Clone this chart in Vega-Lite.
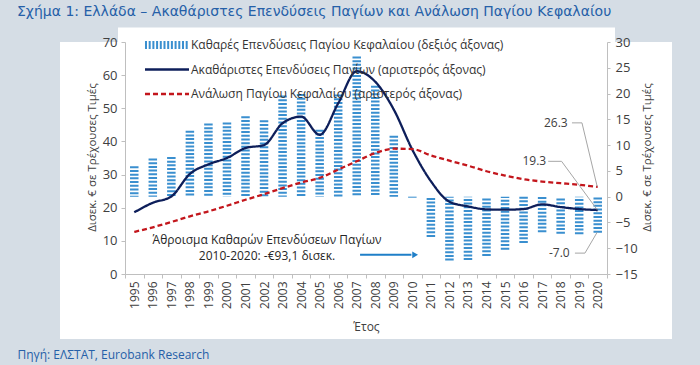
{
  "$schema": "https://vega.github.io/schema/vega-lite/v6.json",
  "width": 482,
  "height": 232,
  "autosize": {"type": "none"},
  "padding": {"left": 125, "top": 42, "right": 93, "bottom": 91},
  "background": "#d5dde5",
  "config": {
    "font": "Open Sans",
    "view": {"fill": "white", "stroke": "white", "strokeWidth": 130, "strokeDash": [0, 482, 946, 0]},
    "legend": {
      "orient": "none",
      "legendX": 36,
      "legendY": -3,
      "title": null,
      "padding": 0,
      "symbolType": "M-2.5,0H2.5",
      "symbolSize": 310,
      "labelFontSize": 12,
      "labelColor": "#333333",
      "labelOffset": 18,
      "rowPadding": 2.5,
      "gridAlign": "all",
      "labelLimit": 500
    }
  },
  "title": {
    "text": "Σχήμα 1: Ελλάδα – Ακαθάριστες Επενδύσεις Παγίων και Ανάλωση Παγίου Κεφαλαίου",
    "anchor": "start",
    "frame": "group",
    "dx": -108,
    "dy": -12,
    "font": "DejaVu Sans",
    "fontSize": 14,
    "fontWeight": "normal",
    "color": "#2560a8"
  },
  "data": {
    "values": [
      {"year": 1995, "gross": 18.6, "depr": 12.7, "net": 5.9},
      {"year": 1996, "gross": 21.5, "depr": 14.1, "net": 7.4},
      {"year": 1997, "gross": 23.4, "depr": 15.7, "net": 7.7},
      {"year": 1998, "gross": 30.2, "depr": 17.4, "net": 12.8},
      {"year": 1999, "gross": 33.1, "depr": 18.9, "net": 14.2},
      {"year": 2000, "gross": 35.0, "depr": 20.6, "net": 14.4},
      {"year": 2001, "gross": 38.0, "depr": 22.4, "net": 15.6},
      {"year": 2002, "gross": 38.9, "depr": 24.1, "net": 14.8},
      {"year": 2003, "gross": 45.5, "depr": 25.9, "net": 19.6},
      {"year": 2004, "gross": 47.5, "depr": 27.6, "net": 19.9},
      {"year": 2005, "gross": 42.0, "depr": 29.0, "net": 13.0},
      {"year": 2006, "gross": 51.5, "depr": 31.5, "net": 19.8},
      {"year": 2007, "gross": 61.2, "depr": 34.0, "net": 27.2},
      {"year": 2008, "gross": 58.0, "depr": 36.5, "net": 21.5},
      {"year": 2009, "gross": 49.6, "depr": 37.8, "net": 11.8},
      {"year": 2010, "gross": 37.5, "depr": 37.7, "net": -0.2},
      {"year": 2011, "gross": 28.0, "depr": 35.8, "net": -7.8},
      {"year": 2012, "gross": 21.8, "depr": 34.2, "net": -12.4},
      {"year": 2013, "gross": 20.4, "depr": 32.7, "net": -12.3},
      {"year": 2014, "gross": 19.5, "depr": 31.0, "net": -11.5},
      {"year": 2015, "gross": 19.4, "depr": 29.7, "net": -10.3},
      {"year": 2016, "gross": 19.6, "depr": 28.6, "net": -9.0},
      {"year": 2017, "gross": 21.0, "depr": 27.9, "net": -6.9},
      {"year": 2018, "gross": 20.2, "depr": 27.4, "net": -7.2},
      {"year": 2019, "gross": 19.6, "depr": 26.9, "net": -7.3},
      {"year": 2020, "gross": 19.3, "depr": 26.3, "net": -7.0}
    ]
  },
  "transform": [{"fold": ["net", "gross", "depr"], "as": ["series", "value"]}],
  "layer": [
    {
      "transform": [{"filter": "datum.series === 'net'"}],
      "mark": {"type": "rule", "strokeWidth": 8.5},
      "encoding": {
        "x": {
          "field": "year", "type": "quantitative",
          "scale": {"domain": [1994.5, 2020.5], "nice": false, "zero": false},
          "axis": {
            "orient": "bottom",
            "values": [1995,1996,1997,1998,1999,2000,2001,2002,2003,2004,2005,2006,2007,2008,2009,2010,2011,2012,2013,2014,2015,2016,2017,2018,2019,2020],
            "format": "d", "labelAngle": -90, "ticks": false, "domain": true, "domainColor": "#bfbfbf",
            "labelPadding": 7, "labelFontSize": 12, "labelColor": "#404040", "labelOverlap": false, "grid": false,
            "title": "Έτος", "titleFontSize": 12, "titleFontWeight": "normal", "titleColor": "#404040", "titlePadding": 13
          }
        },
        "y": {
          "field": "value", "type": "quantitative",
          "scale": {"domain": [-15, 30], "nice": false, "zero": false},
          "axis": {
            "orient": "right", "values": [-15,-10,-5,0,5,10,15,20,25,30], "grid": false, "labelOverlap": false,
            "labelFontSize": 13, "labelColor": "#404040", "domainColor": "#bfbfbf", "tickColor": "#bfbfbf", "tickSize": 3, "labelPadding": 5,
            "title": "Δισεκ. € σε Τρέχουσες Τιμές", "titleAngle": -90, "titleX": 40, "titleY": 115, "titleAlign": "center", "titleBaseline": "middle",
            "titleFontSize": 11.5, "titleFontWeight": "normal", "titleColor": "#404040"
          }
        },
        "y2": {"datum": 0},
        "color": {
          "field": "series", "type": "nominal",
          "scale": {"domain": ["net", "gross", "depr"], "range": ["#3a8fcf", "#0d1e5a", "#c3161c"]},
          "legend": {
            "labelExpr": "datum.value === 'net' ? 'Καθαρές Επενδύσεις Παγίου Κεφαλαίου (δεξιός άξονας)' : datum.value === 'gross' ? 'Ακαθάριστες Επενδύσεις Παγίων (αριστερός άξονας)' : 'Ανάλωση Παγίου Κεφαλαίου (αριστερός άξονας)'",
            "encode": {"symbols": {"update": {"strokeWidth": {"signal": "datum.value === 'net' ? 8 : 2.3"}}}}
          }
        },
        "strokeDash": {
          "field": "series", "type": "nominal",
          "scale": {"domain": ["net", "gross", "depr"], "range": [[2, 1.7], [1, 0], [5, 3]]}
        }
      }
    },
    {
      "layer": [
        {
          "transform": [{"filter": "datum.series !== 'net'"}],
          "mark": {"type": "line", "interpolate": "monotone", "strokeWidth": 2.3},
          "encoding": {
            "x": {
              "field": "year", "type": "quantitative",
              "scale": {"domain": [1994.5, 2020.5], "nice": false, "zero": false},
              "axis": {
                "orient": "bottom",
                "values": [1994.5,1995.5,1996.5,1997.5,1998.5,1999.5,2000.5,2001.5,2002.5,2003.5,2004.5,2005.5,2006.5,2007.5,2008.5,2009.5,2010.5,2011.5,2012.5,2013.5,2014.5,2015.5,2016.5,2017.5,2018.5,2019.5,2020.5],
                "labels": false, "ticks": true, "tickSize": 4, "tickColor": "#bfbfbf", "domain": false, "grid": false,
                "title": "Πηγή: ΕΛΣΤΑΤ, Eurobank Research", "titleX": -108, "titleY": 80, "titleAlign": "left", "titleAnchor": "start",
                "titleBaseline": "middle", "titleFontSize": 12, "titleFontWeight": "normal", "titleColor": "#2560a8"
              }
            },
            "y": {
              "field": "value", "type": "quantitative",
              "scale": {"domain": [0, 70], "nice": false, "zero": false},
              "axis": {
                "orient": "left", "values": [0,10,20,30,40,50,60,70], "grid": false, "labelOverlap": false,
                "labelFontSize": 13, "labelColor": "#404040", "domainColor": "#bfbfbf", "tickColor": "#bfbfbf", "tickSize": 4, "labelPadding": 4,
                "title": "Δισεκ. € σε Τρέχουσες Τιμές", "titleAngle": -90, "titleX": -33, "titleY": 115, "titleAlign": "center", "titleBaseline": "middle",
                "titleFontSize": 11.5, "titleFontWeight": "normal", "titleColor": "#404040"
              }
            },
            "color": {"field": "series", "type": "nominal", "scale": {"domain": ["net", "gross", "depr"], "range": ["#3a8fcf", "#0d1e5a", "#c3161c"]}},
            "strokeDash": {"field": "series", "type": "nominal", "scale": {"domain": ["net", "gross", "depr"], "range": [[2, 1.7], [1, 0], [5, 3]]}}
          }
        },
        {
          "data": {"values": [{}]},
          "mark": {"type": "text", "text": "Άθροισμα Καθαρών Επενδύσεων Παγίων", "fontSize": 12, "color": "#262626", "align": "center", "baseline": "middle"},
          "encoding": {
            "x": {"datum": 2002.16, "type": "quantitative", "axis": {"orient": "top", "domain": true, "domainColor": "white", "domainWidth": 15, "domainCap": "square", "offset": 7.5, "labels": false, "ticks": false, "grid": false, "title": null}},
            "y": {"datum": 10.4, "type": "quantitative", "axis": null}
          }
        },
        {
          "data": {"values": [{}]},
          "mark": {"type": "text", "text": "2010-2020: -€93,1 δισεκ.", "fontSize": 12, "color": "#262626", "align": "center", "baseline": "middle"},
          "encoding": {"x": {"datum": 2002.16, "type": "quantitative", "axis": null}, "y": {"datum": 5.5, "type": "quantitative", "axis": null}}
        },
        {
          "data": {"values": [{}]},
          "mark": {"type": "rule", "color": "#1f7fc8", "strokeWidth": 2},
          "encoding": {"x": {"datum": 2007.18, "type": "quantitative", "axis": null}, "x2": {"datum": 2009.95}, "y": {"datum": 5.8, "type": "quantitative", "axis": null}}
        },
        {
          "data": {"values": [{}]},
          "mark": {"type": "point", "shape": "triangle-right", "filled": true, "size": 45, "color": "#1f7fc8", "opacity": 1},
          "encoding": {"x": {"datum": 2010.15, "type": "quantitative", "axis": null}, "y": {"datum": 5.8, "type": "quantitative", "axis": null}}
        },
        {
          "data": {"values": [{}]},
          "mark": {"type": "rule", "color": "#a6a6a6", "strokeWidth": 1},
          "encoding": {"x": {"datum": 2018.61, "type": "quantitative", "axis": null}, "x2": {"datum": 2019.15}, "y": {"datum": 45.6, "type": "quantitative", "axis": null}}
        },
        {
          "data": {"values": [{}]},
          "mark": {"type": "rule", "color": "#a6a6a6", "strokeWidth": 1},
          "encoding": {"x": {"datum": 2019.15, "type": "quantitative", "axis": null}, "x2": {"datum": 2019.97}, "y": {"datum": 45.6, "type": "quantitative", "axis": null}, "y2": {"datum": 26.4}}
        },
        {
          "data": {"values": [{}]},
          "mark": {"type": "rule", "color": "#a6a6a6", "strokeWidth": 1},
          "encoding": {"x": {"datum": 2017.33, "type": "quantitative", "axis": null}, "x2": {"datum": 2018.05}, "y": {"datum": 34.0, "type": "quantitative", "axis": null}}
        },
        {
          "data": {"values": [{}]},
          "mark": {"type": "rule", "color": "#a6a6a6", "strokeWidth": 1},
          "encoding": {"x": {"datum": 2018.05, "type": "quantitative", "axis": null}, "x2": {"datum": 2019.97}, "y": {"datum": 34.0, "type": "quantitative", "axis": null}, "y2": {"datum": 19.4}}
        },
        {
          "data": {"values": [{}]},
          "mark": {"type": "rule", "color": "#a6a6a6", "strokeWidth": 1},
          "encoding": {"x": {"datum": 2018.77, "type": "quantitative", "axis": null}, "x2": {"datum": 2019.31}, "y": {"datum": 6.3, "type": "quantitative", "axis": null}}
        },
        {
          "data": {"values": [{}]},
          "mark": {"type": "rule", "color": "#a6a6a6", "strokeWidth": 1},
          "encoding": {"x": {"datum": 2019.31, "type": "quantitative", "axis": null}, "x2": {"datum": 2019.97}, "y": {"datum": 6.3, "type": "quantitative", "axis": null}, "y2": {"datum": 12.6}}
        },
        {
          "data": {"values": [{}]},
          "mark": {"type": "text", "text": "26.3", "fontSize": 12, "color": "#404040", "align": "right", "baseline": "middle"},
          "encoding": {"x": {"datum": 2018.38, "type": "quantitative", "axis": null}, "y": {"datum": 45.6, "type": "quantitative", "axis": null}}
        },
        {
          "data": {"values": [{}]},
          "mark": {"type": "text", "text": "19.3", "fontSize": 12, "color": "#404040", "align": "right", "baseline": "middle"},
          "encoding": {"x": {"datum": 2017.22, "type": "quantitative", "axis": null}, "y": {"datum": 34.0, "type": "quantitative", "axis": null}}
        },
        {
          "data": {"values": [{}]},
          "mark": {"type": "text", "text": "-7.0", "fontSize": 12, "color": "#404040", "align": "right", "baseline": "middle"},
          "encoding": {"x": {"datum": 2018.49, "type": "quantitative", "axis": null}, "y": {"datum": 6.3, "type": "quantitative", "axis": null}}
        }
      ],
      "resolve": {"axis": {"x": "independent", "y": "independent"}}
    }
  ],
  "resolve": {"scale": {"y": "independent"}, "axis": {"x": "independent"}}
}
